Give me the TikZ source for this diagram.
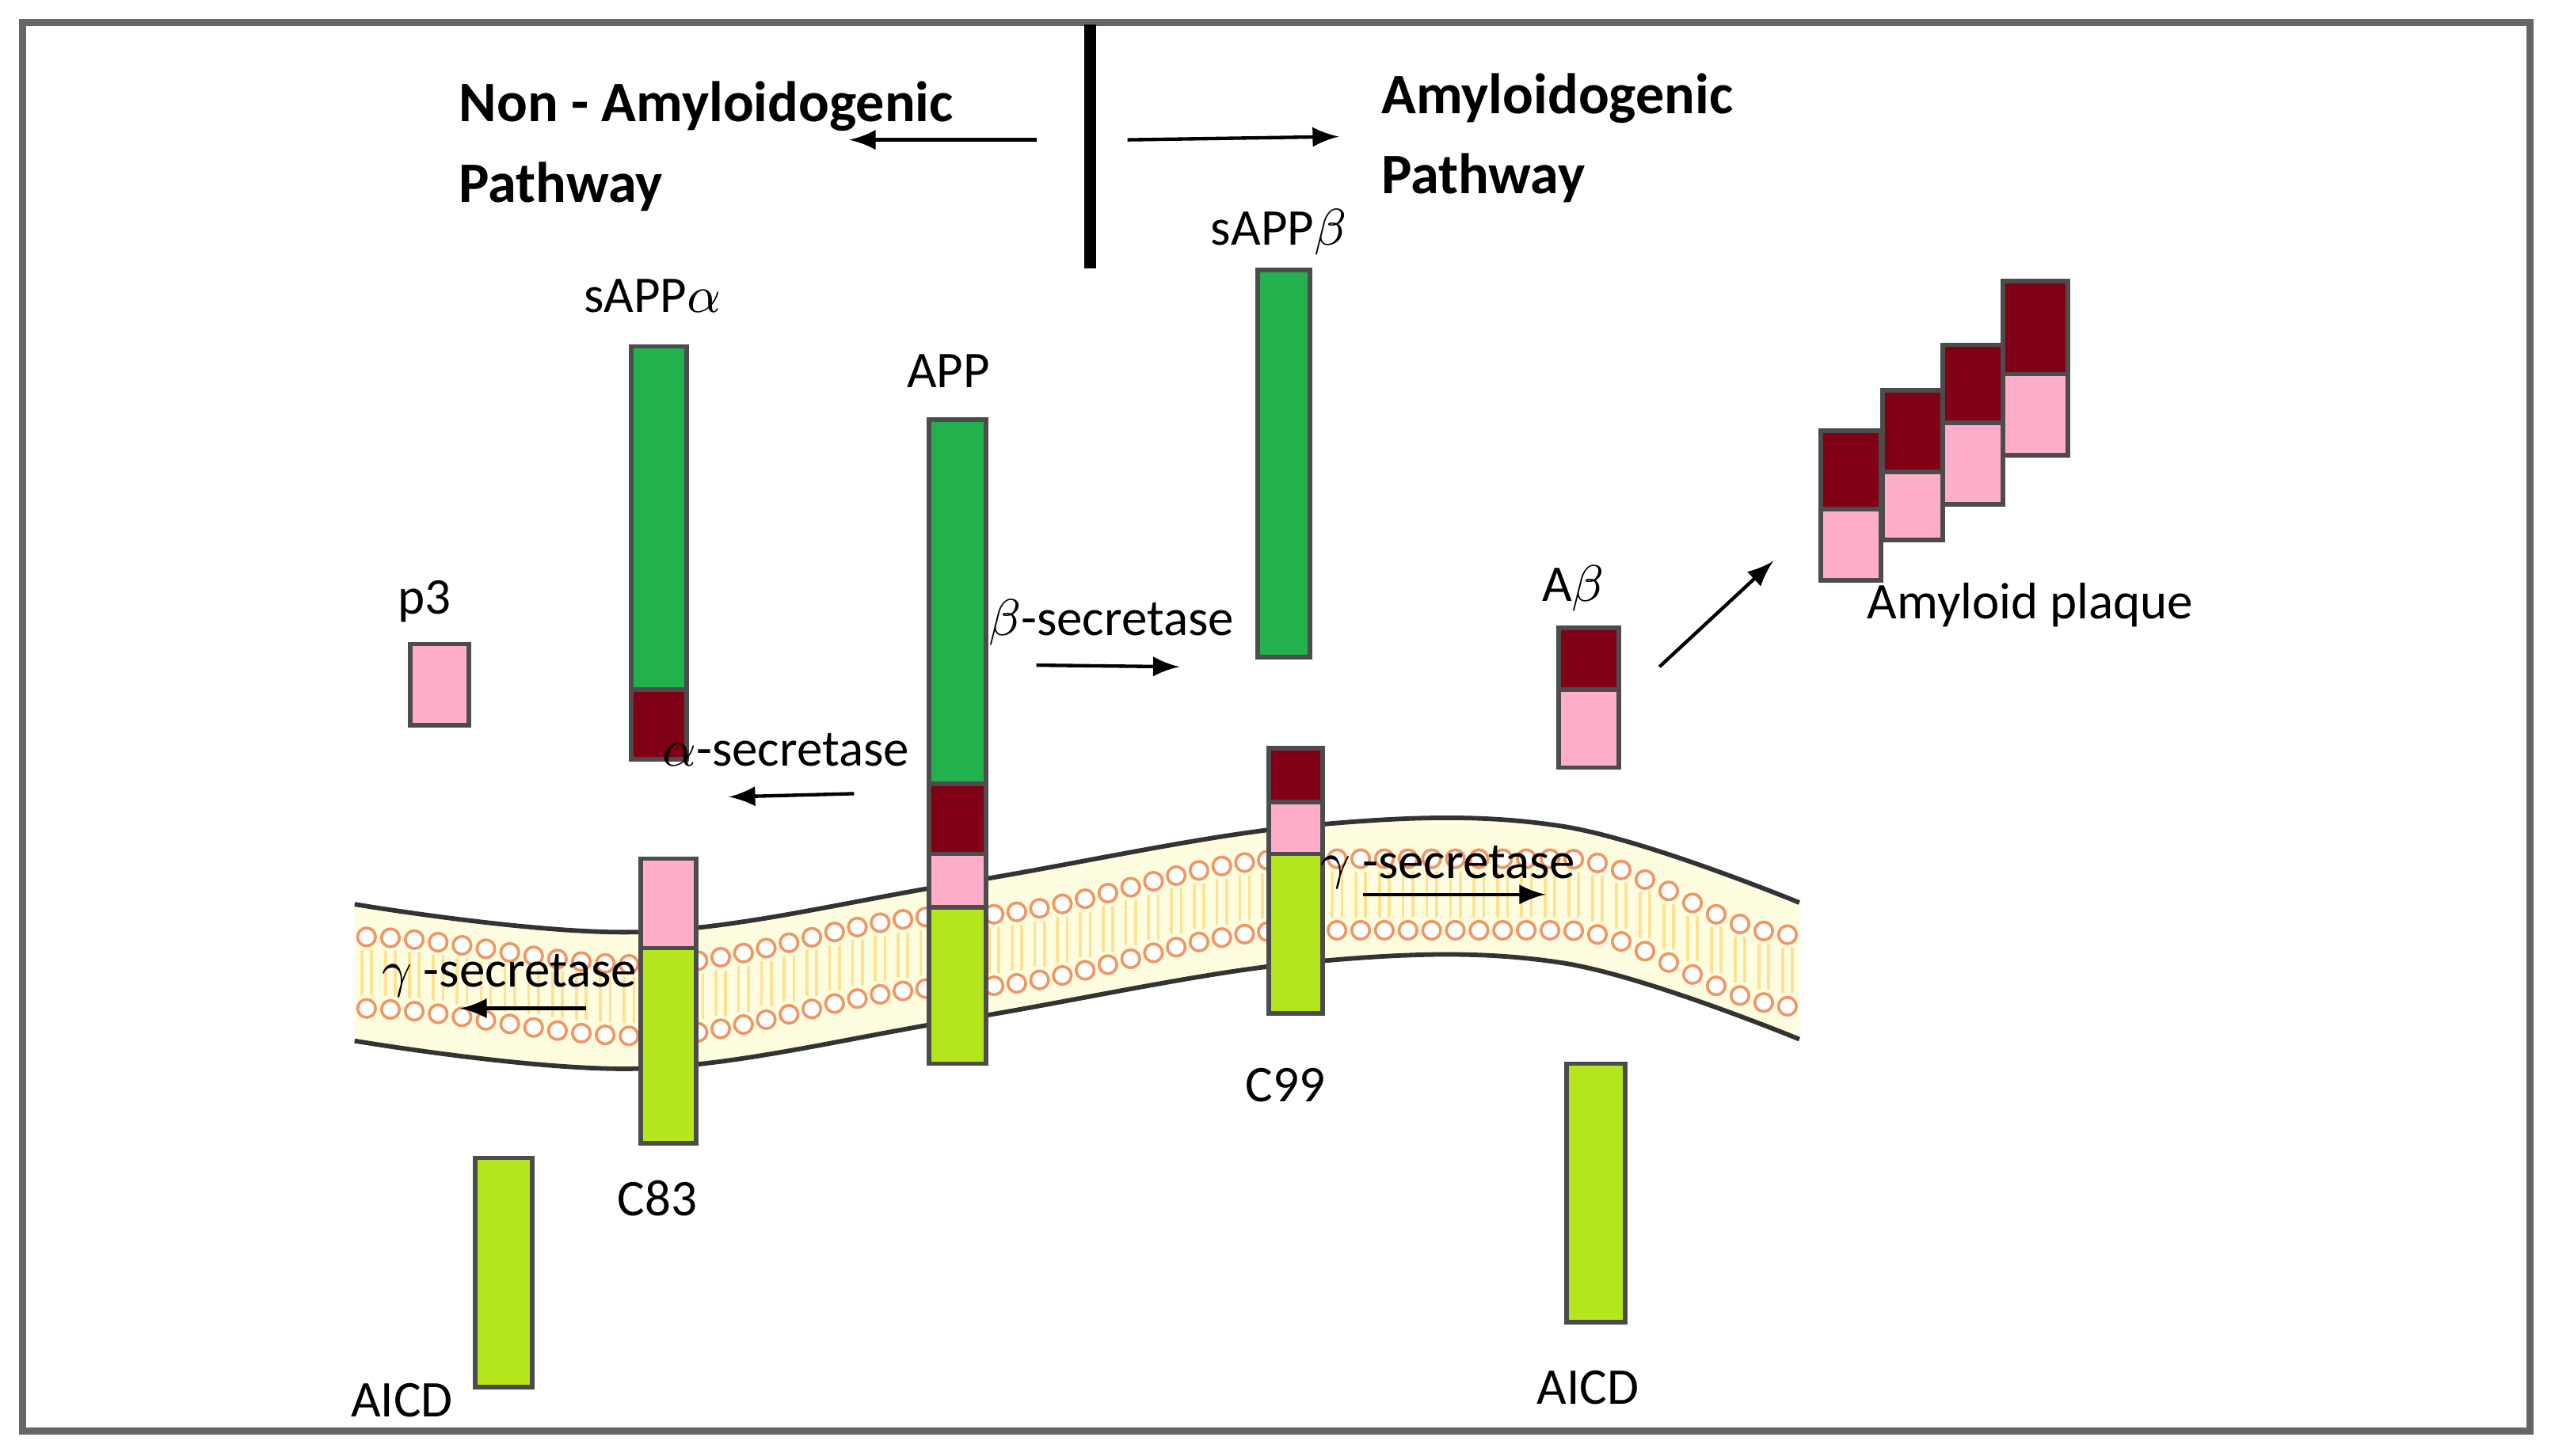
\documentclass[tikz,border=0pt]{standalone}
\usepackage{fontspec}
\setmainfont{Carlito}
\definecolor{gr}{RGB}{34,177,76}
\definecolor{dr}{RGB}{128,0,21}
\definecolor{pk}{RGB}{255,174,201}
\definecolor{lm}{RGB}{181,230,29}
\definecolor{hd}{RGB}{240,150,100}
\begin{document}
\begin{tikzpicture}[x=0.01cm,y=-0.01cm,font=\fontsize{9}{11}\selectfont,
 bar/.style={draw=black!70,line width=0.8pt},
 ar/.style={-latex,line width=0.6pt},
 lbl/.style={inner sep=1pt},
 hdn/.style={circle,draw=hd,line width=0.5pt,fill=white,inner sep=0pt,minimum size=0.11cm}]
\useasboundingbox (0,0) rectangle (1568,895);
\draw[black!60,line width=1.2pt] (14,14) rectangle (1555,880);
% membrane
\def\mem#1{plot[smooth,tension=0.6] coordinates {(218,#1+598) (394,#1+615) (590,#1+585) (800,#1+550) (960,#1+550) (1106,#1+597)}}
\fill[yellow!12] \mem{-42} -- plot[smooth,tension=0.6] coordinates {(1106,639) (960,592) (800,592) (590,627) (394,657) (218,640)} -- cycle;
\foreach \xa/\ya/\xb/\yb in {218/598/394/615, 394/615/590/585, 590/585/800/550, 800/550/960/550, 960/550/1106/597}{
  \pgfmathsetmacro{\nn}{int((\xb-\xa)/14)}
  \foreach \i in {1,...,\nn}{
    \pgfmathsetmacro{\tt}{(\i-0.5)/\nn}
    \pgfmathsetmacro{\xx}{\xa+\tt*(\xb-\xa)}
    \pgfmathsetmacro{\yy}{\ya+(\yb-\ya)*(1-cos(180*\tt))/2}
    \draw[yellow!50!orange!40,line width=0.5pt] (\xx-3,\yy-14) -- (\xx-3,\yy+14) (\xx+3,\yy-14) -- (\xx+3,\yy+14);
    \node[hdn] at (\xx,\yy-22) {};
    \node[hdn] at (\xx,\yy+22) {};
  }
}
\draw[black!80,line width=0.8pt] \mem{-42};
\draw[black!80,line width=0.8pt] \mem{42};
% header
\draw[line width=2pt] (670,15) -- (670,165);
\draw[ar] (637,86) coordinate (a1) -- (522,86) coordinate (a2);
\draw[ar] (693,86) coordinate (a3) -- (823,84) coordinate (a4);
\node[lbl,font=\fontsize{10}{14}\selectfont\bfseries,align=left,anchor=west] (nap) at (278,90) {Non - Amyloidogenic\\Pathway};
\node[lbl,font=\fontsize{10}{14}\selectfont\bfseries,align=left,anchor=west] (ap) at (845,85) {Amyloidogenic\\Pathway};
% sAPPalpha
\node[lbl] (l1) at (401,182) {sAPP$\alpha$};
\draw[bar,fill=gr] (388,213) rectangle (422,424);
\draw[bar,fill=dr] (388,424) rectangle (422,467);
% APP
\node[lbl] (l2) at (583,228) {APP};
\draw[bar,fill=gr] (571,258) rectangle (606,482);
\draw[bar,fill=dr] (571,482) rectangle (606,525);
\draw[bar,fill=pk] (571,525) rectangle (606,558);
\draw[bar,fill=lm] (571,558) rectangle (606,654);
% sAPPbeta
\node[lbl] (l3) at (786,143) {sAPP$\beta$};
\draw[bar,fill=gr] (773,166) rectangle (805,404);
% C99
\draw[bar,fill=dr] (780,460) rectangle (813,493);
\draw[bar,fill=pk] (780,493) rectangle (813,525);
\draw[bar,fill=lm] (780,525) rectangle (813,623);
\node[lbl] (l4) at (790,667) {C99};
% C83
\draw[bar,fill=pk] (394,528) rectangle (428,583);
\draw[bar,fill=lm] (394,583) rectangle (428,703);
\node[lbl] (l5) at (404,737) {C83};
% p3
\node[lbl] (l6) at (261,370) {p3};
\draw[bar,fill=pk] (252,396) rectangle (288,446);
% Abeta
\node[lbl] (l7) at (967,362) {A$\beta$};
\draw[bar,fill=dr] (958,386) rectangle (995,424);
\draw[bar,fill=pk] (958,424) rectangle (995,472);
% AICD
\draw[bar,fill=lm] (292,712) rectangle (327,853);
\node[lbl] (l8) at (247,861) {AICD};
\draw[bar,fill=lm] (963,654) rectangle (999,813);
\node[lbl] (l9) at (976,853) {AICD};
% secretases
\node[lbl] (s1) at (683,383) {$\beta$-secretase};
\draw[ar] (637,409) -- (725,410);
\node[lbl] (s2) at (483,461) {$\alpha$-secretase};
\draw[ar] (525,488) -- (448,490);
\node[lbl] (s3) at (313,600) {$\gamma$ -secretase};
\draw[ar] (360,620) -- (283,620);
\node[lbl] (s4) at (890,533) {$\gamma$ -secretase};
\draw[ar] (838,550) -- (950,550);
\draw[ar] (1020,410) -- (1090,345);
% plaque
\draw[bar,fill=dr] (1119,265) rectangle (1156,313);
\draw[bar,fill=pk] (1119,313) rectangle (1156,357);
\draw[bar,fill=dr] (1157,240) rectangle (1194,290);
\draw[bar,fill=pk] (1157,290) rectangle (1194,332);
\draw[bar,fill=dr] (1194,212) rectangle (1231,260);
\draw[bar,fill=pk] (1194,260) rectangle (1231,310);
\draw[bar,fill=dr] (1231,173) rectangle (1271,230);
\draw[bar,fill=pk] (1231,230) rectangle (1271,280);
\node[lbl] (pl) at (1248,372) {Amyloid plaque};
\end{tikzpicture}
\end{document}
